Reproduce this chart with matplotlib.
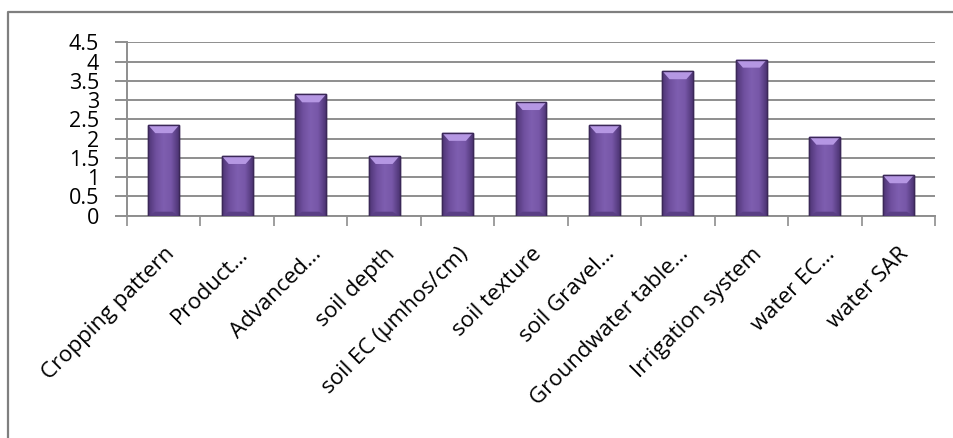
import numpy as np
import matplotlib
matplotlib.use("Agg")
import matplotlib.pyplot as plt
from matplotlib.colors import LinearSegmentedColormap
from matplotlib.lines import Line2D

categories = [
    "Cropping pattern",
    "Product…",
    "Advanced…",
    "soil depth",
    "soil EC (µmhos/cm)",
    "soil texture",
    "soil Gravel…",
    "Groundwater table…",
    "Irrigation system",
    "water EC…",
    "water SAR",
]
scores = [2.35, 1.55, 3.15, 1.55, 2.15, 2.95, 2.35, 3.75, 4.05, 2.05, 1.05]
y_ticks = [0, 0.5, 1, 1.5, 2, 2.5, 3, 3.5, 4, 4.5]
y_tick_labels = ["0", "0.5", "1", "1.5", "2", "2.5", "3", "3.5", "4", "4.5"]

plt.rcParams["font.family"] = ["Open Sans", "DejaVu Sans"]

W, H = 954, 438
fig = plt.figure(figsize=(W / 100, H / 100), dpi=100)
ax = fig.add_axes([127 / W, 1 - 215.7 / H, (935 - 127) / W, (215.7 - 42.3) / H])

x = np.arange(len(categories))
bar_w = 0.42
bars = ax.bar(x, scores, width=bar_w, color="#7a5aa8",
              edgecolor="#3b2858", linewidth=1.0, zorder=3)

# horizontal shading across each bar, plus bevelled top and bottom
shade = LinearSegmentedColormap.from_list(
    "shade", ["#4e3575", "#6f4f9e", "#7e5eb0", "#7757a8", "#4e3575"])
grad = np.linspace(0, 1, 64).reshape(1, -1)
px_y = 4.5 / 173.4
px_x = 11 / 808
for b in bars:
    x0, w, h = b.get_x(), b.get_width(), b.get_height()
    im = ax.imshow(grad, cmap=shade, aspect="auto", extent=(x0, x0 + w, 0, h),
                   zorder=3.1, interpolation="bicubic")
    im.set_clip_path(b)
    bev_h, bev_in = 8 * px_y, 7 * px_x
    ax.fill([x0, x0 + w, x0 + w - bev_in, x0 + bev_in],
            [h, h, h - bev_h, h - bev_h], color="#b597e3", zorder=3.2, lw=0)
    ax.fill([x0 + bev_in, x0 + w - bev_in, x0 + w, x0],
            [4 * px_y, 4 * px_y, 0, 0], color="#5a3f85", zorder=3.2, lw=0)
    ax.add_patch(plt.Rectangle((x0, 0), w, h, fill=False, edgecolor="#3b2858",
                               lw=1.0, zorder=3.3))

ax.set_xlim(-0.5, len(categories) - 0.5)
ax.set_ylim(0, 4.5)
ax.set_yticks(y_ticks)
ax.set_yticklabels(y_tick_labels)
ax.yaxis.grid(True, color="#8e8e8e", linewidth=1.4, zorder=0)
ax.set_axisbelow(True)

ax.set_xticks(x)
ax.set_xticklabels(categories, rotation=45, ha="right", rotation_mode="anchor",
                   fontsize=16)
ax.set_xticks(np.arange(len(categories) + 1) - 0.5, minor=True)
ax.tick_params(axis="x", which="major", length=0, pad=20)
ax.tick_params(axis="x", which="minor", length=7, color="#8e8e8e", width=1.2)
ax.tick_params(axis="y", length=9, color="#8e8e8e", width=1.4, pad=11,
               labelsize=15.5)

for side in ("top", "right"):
    ax.spines[side].set_visible(False)
for side in ("left", "bottom"):
    ax.spines[side].set_color("#8e8e8e")
    ax.spines[side].set_linewidth(1.4)

# outer chart frame, cut by the edges of the image
fig.add_artist(Line2D([8, 8, W], [0, H - 12, H - 12], transform=None,
                      color="#7f7f7f", lw=1.6))

fig.savefig("out.png", dpi=100)
